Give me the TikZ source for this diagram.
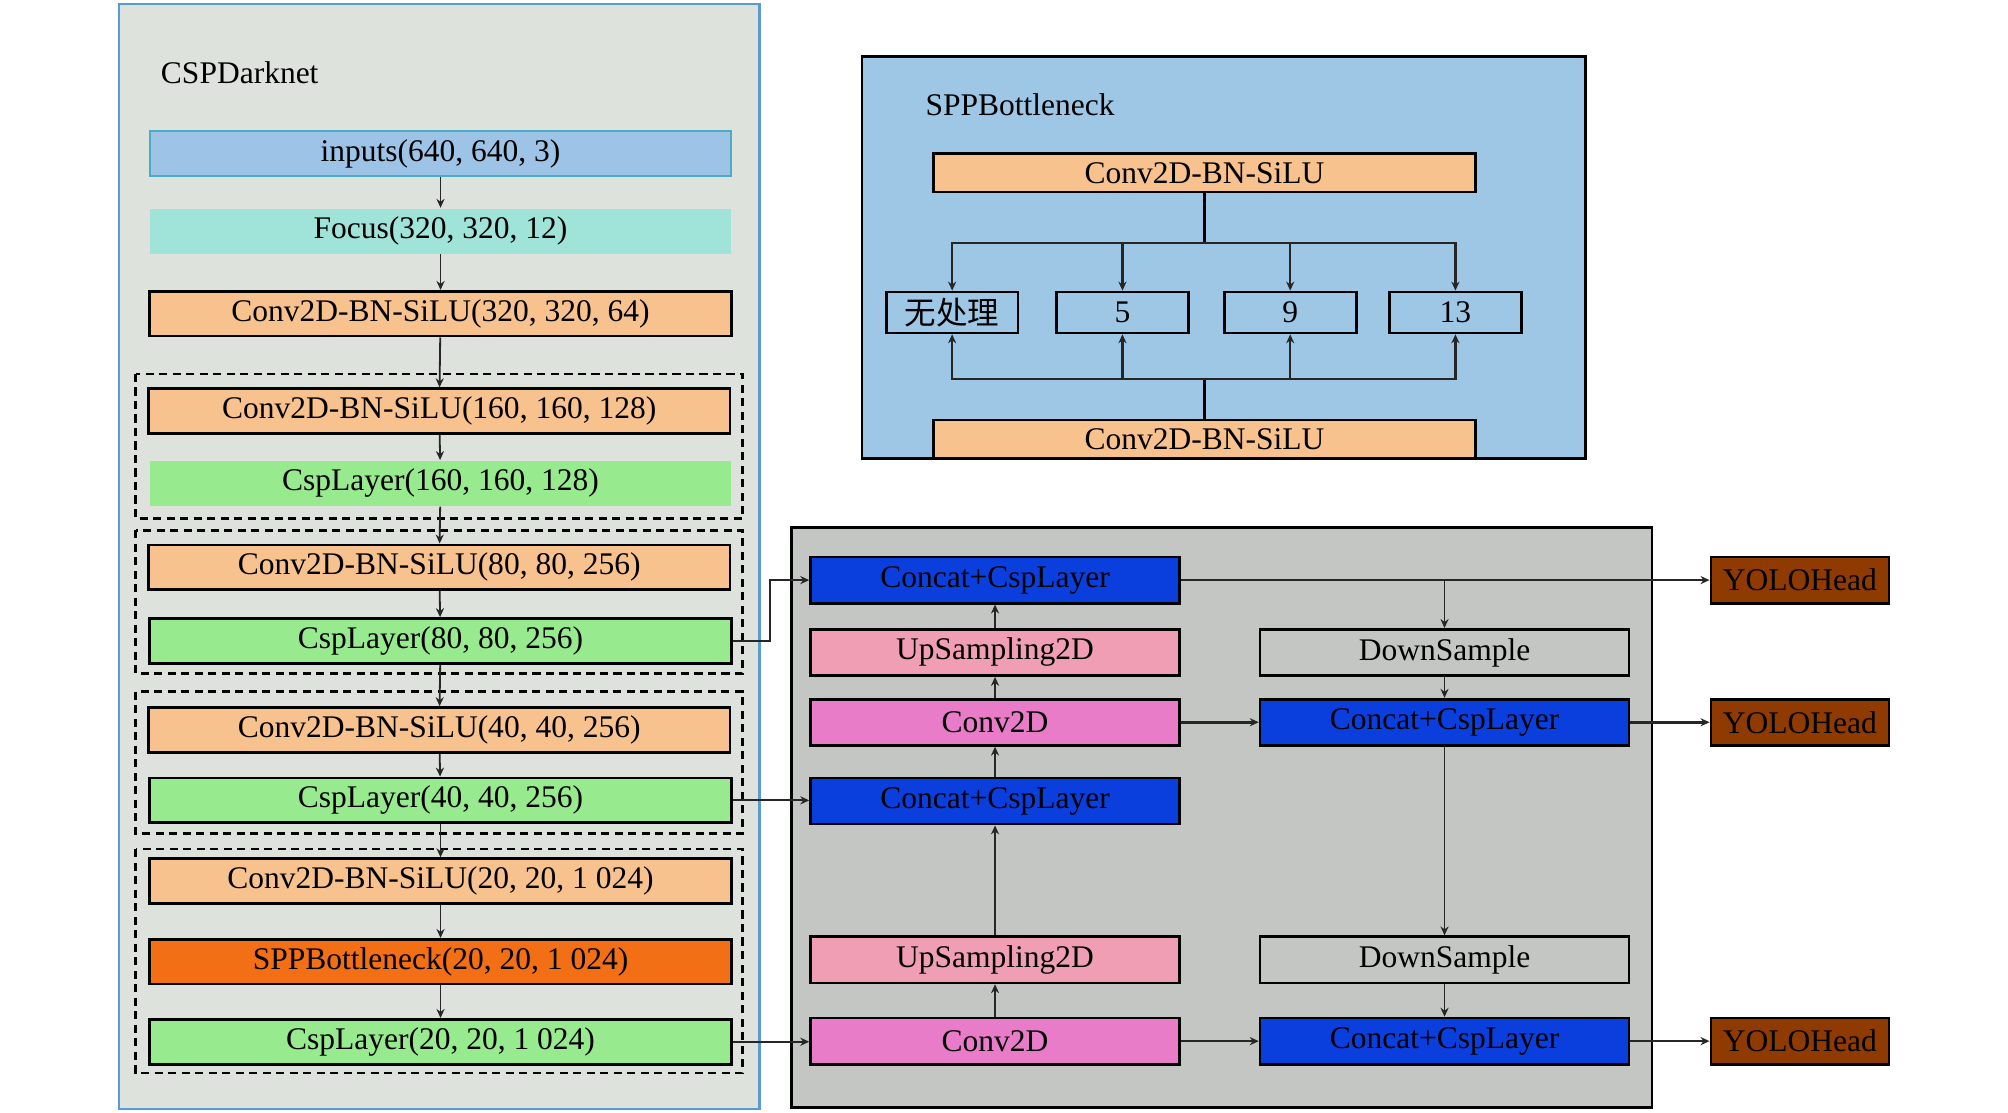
\documentclass[tikz,border=0pt]{standalone}
\usepackage{fontspec}
\setmainfont{Liberation Serif}
\newfontfamily\cjk{Noto Sans CJK SC}
\usetikzlibrary{arrows.meta}
\definecolor{darkbg}{HTML}{DEE2DD}
\definecolor{darkline}{HTML}{5B9BD5}
\definecolor{sppbg}{HTML}{9DC7E5}
\definecolor{neckbg}{HTML}{C3C6C2}
\definecolor{inpcol}{HTML}{9DC3E6}
\definecolor{inpline}{HTML}{4BACC6}
\definecolor{foccol}{HTML}{A0E3D9}
\definecolor{convcol}{HTML}{F7C28E}
\definecolor{cspcol}{HTML}{98EA8E}
\definecolor{sppcol}{HTML}{F26F15}
\definecolor{catcol}{HTML}{0B3FDD}
\definecolor{upcol}{HTML}{F09EB3}
\definecolor{cvcol}{HTML}{E87CC9}
\definecolor{headcol}{HTML}{8F3A00}
\begin{document}
\begin{tikzpicture}[x=0.1mm,y=-0.1mm,
  txt/.style={font=\fontsize{7}{8}\selectfont},
  lay/.style={txt, minimum width=45.4mm, minimum height=3.5mm, inner sep=0pt},
  bk/.style={draw=black, line width=0.6pt},
  nk/.style={txt, minimum width=28.8mm, minimum height=3.6mm, inner sep=0pt, draw=black, line width=0.6pt},
  br/.style={txt, minimum width=10.3mm, minimum height=3.2mm, inner sep=0pt, draw=black, line width=0.6pt},
  arr/.style={-{Stealth[length=2pt,width=1.8pt]}, line width=0.4pt, draw=black!85},
  grp/.style={dash pattern=on 1.8pt off 1.2pt, line width=0.6pt}]
\useasboundingbox (0,0) rectangle (1568,869);
% panels
\draw[fill=darkbg, draw=darkline, line width=0.5pt] (93,3) rectangle (593,866);
\draw[fill=sppbg, draw=black, line width=0.6pt] (673,44) rectangle (1238,358);
\draw[fill=neckbg, draw=black, line width=0.6pt] (618,412) rectangle (1290,865);
\draw[grp] (106,292) rectangle (580,405);
\draw[grp] (106,414) rectangle (580,526);
\draw[grp] (106,540) rectangle (580,651);
\draw[grp] (106,663) rectangle (580,838);
\node[txt, anchor=west, inner sep=0pt] (darkname) at (125,57) {CSPDarknet};
\node[txt, anchor=west, inner sep=0pt] (sppname) at (722,82) {SPPBottleneck};
% backbone
\node[lay, fill=inpcol, draw=inpline, line width=0.4pt] (inp) at (344,120) {inputs(640, 640, 3)};
\node[lay, fill=foccol] (focus) at (344,180.5) {Focus(320, 320, 12)};
\node[lay, bk, fill=convcol] (conv1) at (344,245) {Conv2D-BN-SiLU(320, 320, 64)};
\node[lay, bk, fill=convcol] (conv2) at (343,321) {Conv2D-BN-SiLU(160, 160, 128)};
\node[lay, fill=cspcol] (csp2) at (344,377.5) {CspLayer(160, 160, 128)};
\node[lay, bk, fill=convcol] (conv3) at (343,443) {Conv2D-BN-SiLU(80, 80, 256)};
\node[lay, bk, fill=cspcol] (csp3) at (344,500.5) {CspLayer(80, 80, 256)};
\node[lay, bk, fill=convcol] (conv4) at (343,570) {Conv2D-BN-SiLU(40, 40, 256)};
\node[lay, bk, fill=cspcol] (csp4) at (344,625) {CspLayer(40, 40, 256)};
\node[lay, bk, fill=convcol] (conv5) at (344,688) {Conv2D-BN-SiLU(20, 20, 1 024)};
\node[lay, bk, fill=sppcol] (spp) at (344,751) {SPPBottleneck(20, 20, 1 024)};
\node[lay, bk, fill=cspcol] (csp5) at (344,813.5) {CspLayer(20, 20, 1 024)};
\draw[arr] (inp) -- (focus);
\draw[arr] (focus) -- (conv1);
\draw[arr] (conv1) -- (conv2);
\draw[arr] (conv2) -- (csp2);
\draw[arr] (csp2) -- (conv3);
\draw[arr] (conv3) -- (csp3);
\draw[arr] (csp3) -- (conv4);
\draw[arr] (conv4) -- (csp4);
\draw[arr] (csp4) -- (conv5);
\draw[arr] (conv5) -- (spp);
\draw[arr] (spp) -- (csp5);
% spp block
\node[txt, fill=convcol, draw=black, line width=0.6pt, minimum width=42.3mm, minimum height=3mm, inner sep=0pt] (sppin) at (940.5,135) {Conv2D-BN-SiLU};
\node[br] (pool0) at (743.5,244) {\cjk 无处理};
\node[br] (pool5) at (876.5,244) {5};
\node[br] (pool9) at (1007.5,244) {9};
\node[br] (pool13) at (1136.5,244) {13};
\node[txt, fill=convcol, draw=black, line width=0.6pt, minimum width=42.3mm, minimum height=3mm, inner sep=0pt] (sppout) at (940.5,343) {Conv2D-BN-SiLU};
\coordinate (split) at (940.5,190);
\coordinate (merge) at (940.5,296);
\draw[line width=0.5pt] (sppin) -- (split);
\draw[line width=0.5pt] (sppout) -- (merge);
\foreach \p in {pool0,pool5,pool9,pool13} {
  \draw[arr, line width=0.5pt] (split) -| (\p.north);
  \draw[arr, line width=0.5pt] (merge) -| (\p.south);
}
% neck
\node[nk, fill=catcol] (cat1) at (777,453) {Concat+CspLayer};
\node[nk, fill=upcol] (up1) at (777,509.5) {UpSampling2D};
\node[nk, fill=cvcol] (cv1) at (777,564) {Conv2D};
\node[nk, fill=catcol] (cat2) at (777,625.5) {Concat+CspLayer};
\node[nk, fill=upcol] (up2) at (777,749.5) {UpSampling2D};
\node[nk, fill=cvcol] (cv2) at (777,813) {Conv2D};
\node[nk] (down1) at (1128,509.5) {DownSample};
\node[nk, fill=catcol] (pan1) at (1128,564) {Concat+CspLayer};
\node[nk] (down2) at (1128,749.5) {DownSample};
\node[nk, fill=catcol] (pan2) at (1128,813) {Concat+CspLayer};
\node[nk, fill=headcol, minimum width=13.9mm] (head1) at (1405.5,453) {YOLOHead};
\node[nk, fill=headcol, minimum width=13.9mm] (head2) at (1405.5,564) {YOLOHead};
\node[nk, fill=headcol, minimum width=13.9mm] (head3) at (1405.5,813) {YOLOHead};
\draw[arr] (csp3.east) -- ++(29,0) |- (cat1.west);
\draw[arr] (csp4.east) -- (csp4.east -| cat2.west);
\draw[arr] (csp5.east) -- (csp5.east -| cv2.west);
\draw[arr] (cv2) -- (up2);
\draw[arr] (up2) -- (cat2);
\draw[arr] (cat2) -- (cv1);
\draw[arr] (cv1) -- (up1);
\draw[arr] (up1) -- (cat1);
\draw[arr, line width=0.6pt] (cat1) -- (head1);
\draw[arr] (cat1) -| (down1);
\draw[arr] (down1) -- (pan1);
\draw[arr, line width=0.6pt] (cv1) -- (pan1);
\draw[arr, line width=0.6pt] (pan1) -- (head2);
\draw[arr] (pan1) -- (down2);
\draw[arr] (down2) -- (pan2);
\draw[arr] (cv2) -- (pan2);
\draw[arr] (pan2) -- (head3);
\end{tikzpicture}
\end{document}
